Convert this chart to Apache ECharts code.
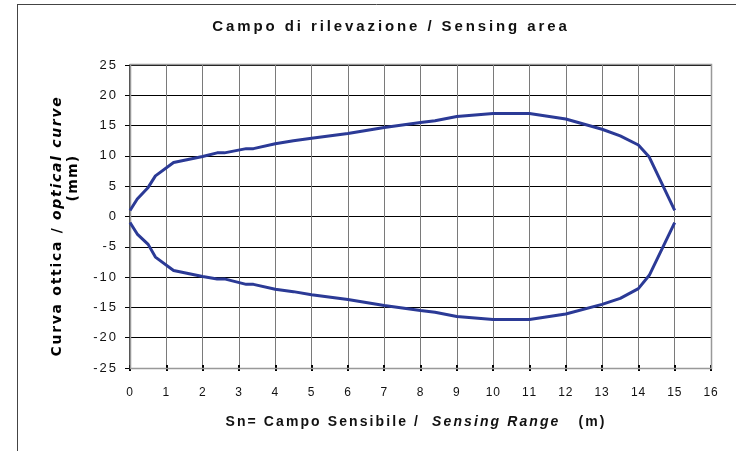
<!DOCTYPE html>
<html>
<head>
<meta charset="utf-8">
<script src="https://cdn.jsdelivr.net/npm/echarts@6/dist/echarts.min.js"></script>
<style>
  html, body { margin: 0; padding: 0; background: #fff; }
  #chart { width: 736px; height: 451px; }
</style>
</head>
<body>
<div id="chart"></div>
<script>
// Sensing range (m) sampled along the lobe
const rangeM = [0, 0.2, 0.5, 0.7, 1.2, 2, 2.4, 2.6, 3.2, 3.4, 4, 4.5, 5, 6, 7, 8, 8.4, 9, 10, 11, 12, 13, 13.5, 14, 14.3, 15];
// Optical curve, upper half (mm)
const upperMm = [1, 2.9, 4.8, 6.7, 8.9, 9.9, 10.5, 10.5, 11.2, 11.2, 12, 12.5, 12.9, 13.7, 14.7, 15.5, 15.8, 16.5, 17, 17, 16.1, 14.4, 13.3, 11.8, 9.8, 1];
// Optical curve, lower half (mm)
const lowerMm = [-1, -2.9, -4.6, -6.7, -8.9, -9.9, -10.3, -10.3, -11.2, -11.2, -12, -12.4, -12.9, -13.7, -14.7, -15.5, -15.8, -16.5, -17, -17, -16.1, -14.5, -13.5, -11.9, -9.7, -1];

const xTicks = { min: 0, max: 16, step: 1 };
const yTicks = { min: -25, max: 25, step: 5 };

const pair = (xs, ys) => xs.map((x, i) => [x, ys[i]]);
const font = '"Liberation Sans", Arial, sans-serif';
const heavyFont = '"DejaVu Sans", sans-serif';
const lineColor = '#2b3a96';

// Wrap every character of a run in its own rich token so it can be tracked out
function tracked(str, style) {
  return Array.from(str).map(ch => '{' + style + '|' + ch + '}').join('');
}
function trackStyle(base, gap) {
  return Object.assign({ padding: [0, gap, 0, 0] }, base);
}

const titleBase = { fontFamily: font, fontSize: 15, fontWeight: 'bold', fill: '#111' };
const xNameBase = { fontFamily: font, fontSize: 14, fontWeight: 'bold', fill: '#111' };
const yNameBase = { fontFamily: heavyFont, fontSize: 14, fontWeight: 'bold', fill: '#000' };

const chart = echarts.init(document.getElementById('chart'), null, { renderer: 'canvas' });
chart.setOption({
  animation: false,
  backgroundColor: '#fff',
  graphic: [
    { type: 'line', shape: { x1: 17, y1: 4.5, x2: 736, y2: 4.5 }, style: { stroke: '#444', lineWidth: 1 } },
    { type: 'line', shape: { x1: 17.5, y1: 4, x2: 17.5, y2: 451 }, style: { stroke: '#444', lineWidth: 1 } },
    {
      type: 'text', x: 391, y: 27,
      style: {
        text: tracked('Campo di rilevazione / Sensing area', 't'),
        align: 'center', verticalAlign: 'middle',
        rich: { t: trackStyle(titleBase, 2.9) }
      }
    },
    {
      type: 'text', x: 416, y: 422,
      style: {
        text: tracked('Sn= Campo Sensibile /  ', 'b') + tracked('Sensing Range', 'i') + tracked('   (m)', 'b'),
        align: 'center', verticalAlign: 'middle',
        rich: {
          b: trackStyle(xNameBase, 2.1),
          i: trackStyle(Object.assign({}, xNameBase, { fontStyle: 'italic' }), 2.1)
        }
      }
    },
    {
      type: 'text', x: 57, y: 226, rotation: Math.PI / 2,
      style: {
        text: tracked('Curva ottica / ', 'b') + tracked('optical curve', 'i'),
        align: 'center', verticalAlign: 'middle',
        rich: {
          b: trackStyle(yNameBase, 1.7),
          i: trackStyle(Object.assign({}, yNameBase, { fontStyle: 'italic' }), 1.7)
        }
      }
    },
    {
      type: 'text', x: 73, y: 178, rotation: Math.PI / 2,
      style: {
        text: tracked('(mm)', 'b'),
        align: 'center', verticalAlign: 'middle',
        rich: { b: trackStyle(yNameBase, 1.2) }
      }
    },
    { type: 'rect', shape: { x: 130.5, y: 64.5, width: 581, height: 304 }, style: { fill: 'none', stroke: '#999', lineWidth: 1.5 }, z: 5 }
  ],
  grid: { left: 130, right: 25, top: 65, bottom: 83, containLabel: false },
  xAxis: [
    {
      type: 'value', min: xTicks.min, max: xTicks.max, interval: xTicks.step, position: 'bottom',
      axisLine: { show: false }, axisTick: { show: false },
      axisLabel: {
        margin: 19,
        formatter: v => tracked(String(v), 'd'),
        rich: { d: { fontFamily: font, fontSize: 12, color: '#111', padding: [0, 0.8, 0, 0] } }
      },
      splitLine: { show: true, lineStyle: { color: '#7a7a7a', width: 1 } }
    },
    {
      type: 'value', min: xTicks.min, max: xTicks.max, interval: xTicks.step, position: 'bottom',
      axisLine: { show: true, onZero: true, lineStyle: { color: '#000', width: 1 } },
      axisTick: { show: true, inside: false, length: 3, lineStyle: { color: '#000', width: 2 } },
      axisLabel: { show: false }, splitLine: { show: false }
    },
    {
      type: 'value', min: xTicks.min, max: xTicks.max, interval: xTicks.step, position: 'bottom',
      axisLine: { show: true, onZero: true, lineStyle: { color: '#000', width: 1 } },
      axisTick: { show: true, inside: true, length: 3, lineStyle: { color: '#000', width: 2 } },
      axisLabel: { show: false }, splitLine: { show: false }
    }
  ],
  yAxis: {
    type: 'value', min: yTicks.min, max: yTicks.max, interval: yTicks.step,
    axisLine: { show: true, onZero: false, lineStyle: { color: '#000', width: 1.5 } },
    axisTick: { show: true, length: 5, lineStyle: { color: '#000' } },
    axisLabel: {
      margin: 12,
      formatter: v => tracked(String(v), 'd'),
      rich: { d: { fontFamily: font, fontSize: 13, color: '#111', padding: [0, 2, 0, 0] } }
    },
    splitLine: { show: true, lineStyle: { color: '#000', width: 1 } }
  },
  series: [
    {
      type: 'line', data: pair(rangeM, upperMm), showSymbol: false, z: 10,
      lineStyle: { color: lineColor, width: 3 }
    },
    {
      type: 'line', data: pair(rangeM, lowerMm), showSymbol: false, z: 10,
      lineStyle: { color: lineColor, width: 3 }
    }
  ]
});
</script>
</body>
</html>
